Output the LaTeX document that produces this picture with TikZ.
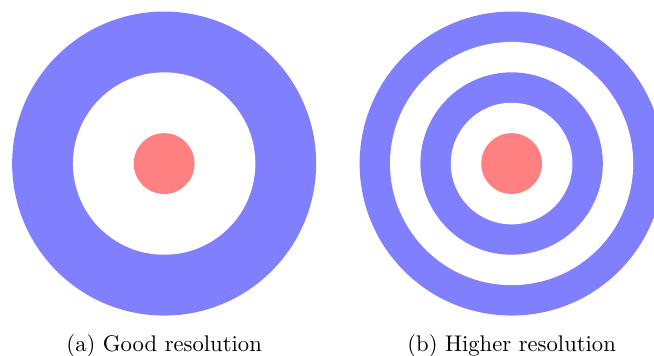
\documentclass[tikz,border=0pt]{standalone}
\usepackage{tikz}

\begin{document}
\begin{tikzpicture}[
    ring/.style={fill=blue!50},
    hole/.style={fill=white},
    bull/.style={fill=red!50},
    caption/.style={anchor=base, font=\fontsize{10.6}{13}\selectfont}
]
    \useasboundingbox (0,0) rectangle (10.757,5.855);

    % good resolution
    \coordinate (c1) at (2.70,3.165);
    \fill[ring] (c1) circle (2.5);
    \fill[hole] (c1) circle (1.5);
    \fill[bull] (c1) circle (0.5);
    \node[caption] (cap1) at (2.70,0.08) {(a)\ Good resolution};

    % higher resolution
    \coordinate (c2) at (8.415,3.165);
    \foreach \r/\s in {2.5/ring, 2/hole, 1.5/ring, 1/hole}
        \fill[\s] (c2) circle (\r);
    \fill[bull] (c2) circle (0.5);
    \node[caption] (cap2) at (8.415,0.08) {(b)\ Higher resolution};
\end{tikzpicture}
\end{document}
